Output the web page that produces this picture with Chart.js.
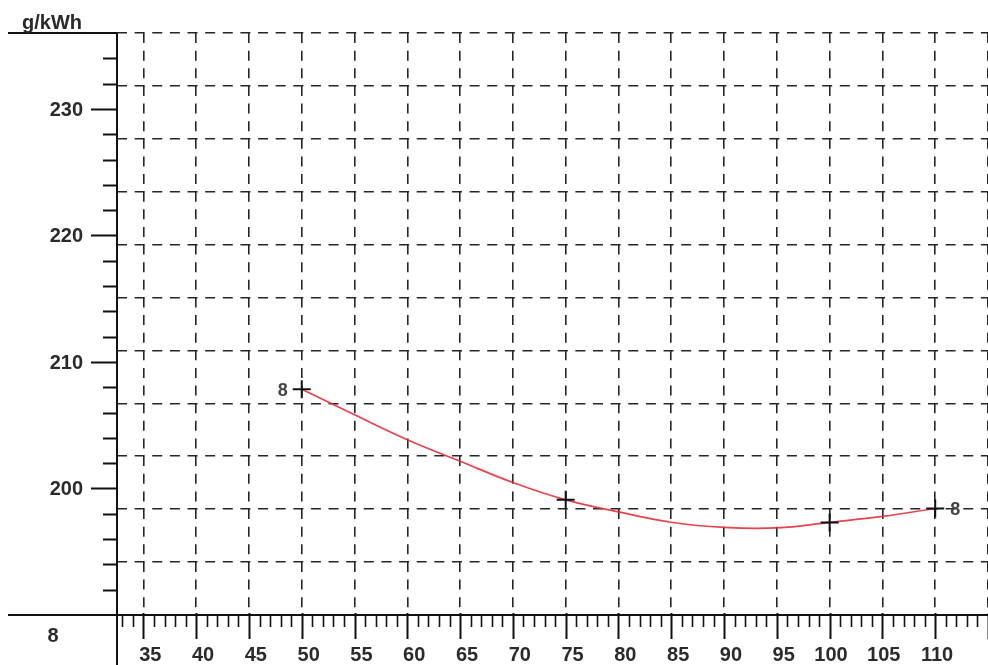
<!DOCTYPE html>
<html>
<head>
<meta charset="utf-8">
<script src="https://cdn.jsdelivr.net/npm/chart.js@4.4.1/dist/chart.umd.min.js"></script>
<style>
  html, body { margin: 0; padding: 0; background: #ffffff; }
  #wrap { width: 988px; height: 665px; }
</style>
</head>
<body>
<div id="wrap"><canvas id="c" width="988" height="665"></canvas></div>
<script>
// ---- data ----
const curveLoad = [50, 55, 60, 65, 70, 75, 80, 85, 90, 95, 100, 105, 110];
const curveSfoc = [207.84, 205.82, 203.85, 202.15, 200.47, 199.10, 198.15, 197.33, 196.92, 196.88, 197.32, 197.79, 198.42];
const markerLoad = [50, 75, 100, 110];
const markerSfoc = [207.84, 199.10, 197.32, 198.42];
const curveName = '8';

// ---- axes / ticks ----
const xMin = 32.5, xMax = 115;
const yMin = 190, yMax = 236;
const xGridValues = [35, 40, 45, 50, 55, 60, 65, 70, 75, 80, 85, 90, 95, 100, 105, 110, 115];
const xTickValues = [35, 40, 45, 50, 55, 60, 65, 70, 75, 80, 85, 90, 95, 100, 105, 110];
const xTickLabels = ['35', '40', '45', '50', '55', '60', '65', '70', '75', '80', '85', '90', '95', '100', '105', '110'];
const yTickValues = [200, 210, 220, 230];
const yTickLabels = ['200', '210', '220', '230'];
const yGridDivisions = [0, 1, 2, 3, 4, 5, 6, 7, 8, 9, 10, 11];
const yUnit = 'g/kWh';
const cornerLabel = '8';

const FONT = "'Liberation Sans', Arial, sans-serif";
const AXIS_COLOR = '#111111';
const TEXT_COLOR = '#2b2b2b';

const axesPlugin = {
  id: 'engineAxes',
  afterDatasetsDraw(chart) {
    const ctx = chart.ctx;
    const xs = chart.scales.x, ys = chart.scales.y;
    const L = xs.getPixelForValue(xMin);
    const T = ys.getPixelForValue(yMax);
    const B = ys.getPixelForValue(yMin);
    ctx.save();
    ctx.strokeStyle = AXIS_COLOR;
    ctx.lineCap = 'butt';

    // axis lines
    ctx.lineWidth = 2;
    ctx.beginPath();
    ctx.moveTo(8, T); ctx.lineTo(L, T);
    ctx.moveTo(8, B); ctx.lineTo(chart.width, B);
    ctx.moveTo(L, T); ctx.lineTo(L, chart.height);
    ctx.stroke();

    // y ticks every 2 units
    for (let v = yMin + 2; v < yMax; v += 2) {
      const y = Math.round(ys.getPixelForValue(v)) + 0.5;
      const major = yTickValues.includes(v);
      ctx.lineWidth = 2;
      ctx.beginPath();
      ctx.moveTo(L - (major ? 26 : 14), y);
      ctx.lineTo(L, y);
      ctx.stroke();
    }
    // x ticks every 1 unit
    for (let v = Math.ceil(xMin); v <= xMax; v += 1) {
      const x = Math.round(xs.getPixelForValue(v)) + 0.5;
      const major = v % 5 === 0;
      ctx.lineWidth = major ? 2 : 1.6;
      ctx.beginPath();
      ctx.moveTo(x, major ? B - 2 : B);
      ctx.lineTo(x, major ? B + 24 : B + 12);
      ctx.stroke();
    }

    // labels
    ctx.fillStyle = TEXT_COLOR;
    ctx.font = 'bold 20px ' + FONT;
    ctx.textBaseline = 'alphabetic';
    ctx.textAlign = 'right';
    yTickValues.forEach((v, i) => {
      ctx.fillText(yTickLabels[i], L - 34, ys.getPixelForValue(v) + 7);
    });
    xTickValues.forEach((v, i) => {
      ctx.fillText(xTickLabels[i], xs.getPixelForValue(v) + 18, B + 46);
    });
    ctx.textAlign = 'left';
    ctx.fillText(yUnit, 22, T - 4);
    ctx.textAlign = 'center';
    ctx.fillText(cornerLabel, 53, B + 27);

    // curve name labels at both ends
    ctx.font = 'bold 18px ' + FONT;
    ctx.fillStyle = '#444444';
    const first = 0, last = markerLoad.length - 1;
    ctx.textAlign = 'right';
    ctx.fillText(curveName, xs.getPixelForValue(markerLoad[first]) - 14, ys.getPixelForValue(markerSfoc[first]) + 7);
    ctx.textAlign = 'left';
    ctx.fillText(curveName, xs.getPixelForValue(markerLoad[last]) + 15, ys.getPixelForValue(markerSfoc[last]) + 7);
    ctx.restore();
  }
};

const gridStyle = { color: '#262626', lineWidth: 1.6, drawTicks: false };
const gridBorder = { display: false, dash: [10, 7.63] };

new Chart(document.getElementById('c'), {
  type: 'scatter',
  data: {
    datasets: [
      {
        label: 'points',
        data: markerLoad.map((x, i) => ({ x, y: markerSfoc[i] })),
        showLine: false,
        pointStyle: 'cross',
        pointRadius: 9,
        pointBorderWidth: 2,
        pointBorderColor: '#111111',
        pointBackgroundColor: '#111111',
        yAxisID: 'y'
      },
      {
        label: curveName,
        data: curveLoad.map((x, i) => ({ x, y: curveSfoc[i] })),
        showLine: true,
        borderColor: 'rgba(228, 45, 58, 0.9)',
        borderWidth: 1.7,
        pointRadius: 0,
        tension: 0.4,
        fill: false,
        yAxisID: 'y'
      }
    ]
  },
  options: {
    responsive: false,
    animation: false,
    devicePixelRatio: 1,
    events: [],
    layout: { autoPadding: false, padding: { left: 117, top: 33, right: 0, bottom: 50 } },
    plugins: { legend: { display: false }, tooltip: { enabled: false } },
    scales: {
      x: {
        type: 'linear', min: xMin, max: xMax, display: true,
        afterBuildTicks: (s) => { s.ticks = xGridValues.map(v => ({ value: v })); },
        ticks: { display: false },
        grid: gridStyle,
        border: gridBorder
      },
      y: { type: 'linear', min: yMin, max: yMax, display: false },
      yg: {
        type: 'linear', min: 0, max: 11, position: 'left', display: true,
        afterBuildTicks: (s) => { s.ticks = yGridDivisions.map(v => ({ value: v })); },
        ticks: { display: false },
        grid: gridStyle,
        border: gridBorder
      }
    }
  },
  plugins: [axesPlugin]
});
</script>
</body>
</html>
